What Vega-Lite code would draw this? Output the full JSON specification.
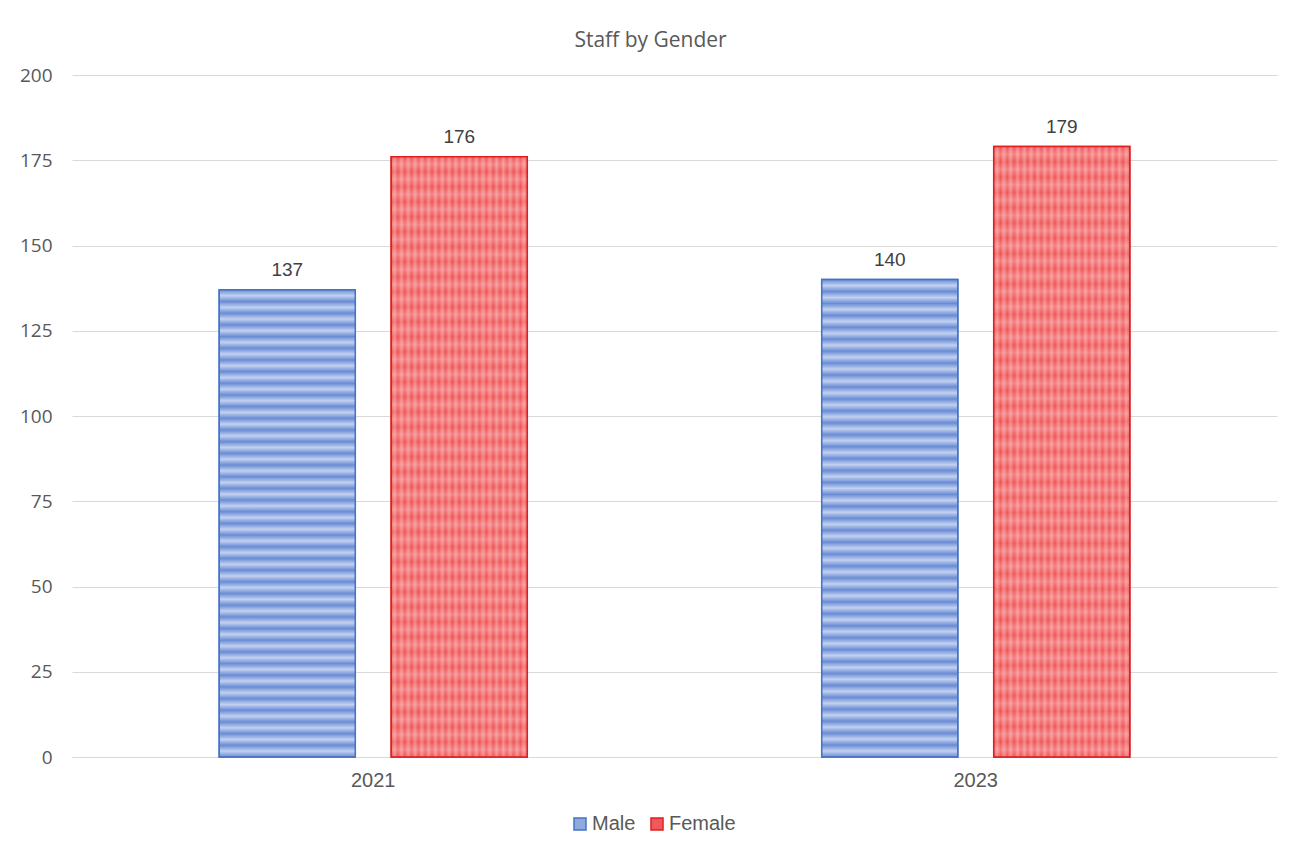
{
  "$schema": "https://vega.github.io/schema/vega-lite/v6.json",
  "autosize": {"type": "none"},
  "width": 1205,
  "height": 682,
  "padding": {"left": 72, "top": 75, "right": 19, "bottom": 90},
  "background": "white",
  "title": {"text": "Staff by Gender", "font": "Open Sans", "fontSize": 21, "fontWeight": "normal", "color": "#595959", "offset": 15, "anchor": "middle", "dx": -24},
  "data": {"values": [
    {"year": "2021", "gender": "Male", "value": 137},
    {"year": "2021", "gender": "Female", "value": 176},
    {"year": "2023", "gender": "Male", "value": 140},
    {"year": "2023", "gender": "Female", "value": 179}
  ]},
  "encoding": {
    "x": {"field": "year", "type": "nominal", "scale": {"paddingInner": 0, "paddingOuter": 0},
      "axis": {"title": null, "labelAngle": 0, "labelFont": "Liberation Sans", "labelFontSize": 20, "labelColor": "#595959", "labelPadding": 13, "ticks": false, "domainColor": "#D9D9D9", "domainWidth": 1, "grid": false}},
    "xOffset": {"field": "gender", "type": "nominal", "scale": {"domain": ["Male", "Female"], "paddingInner": 0.209, "paddingOuter": 0.856}},
    "y": {"field": "value", "type": "quantitative", "scale": {"domain": [0, 200], "nice": false},
      "axis": {"title": null, "values": [0, 25, 50, 75, 100, 125, 150, 175, 200], "labelFont": "Open Sans", "labelFontSize": 19, "labelColor": "#595959", "labelPadding": 20, "ticks": false, "domain": false, "gridColor": "#D9D9D9", "gridWidth": 1}}
  },
  "layer": [
    {
      "mark": {"type": "bar", "strokeWidth": 1.5},
      "encoding": {
        "fill": {"field": "gender", "type": "nominal", "scale": {"domain": ["Male", "Female"], "range": ["#8FAADC", "#F0595B"]},
          "legend": {"title": null, "orient": "none", "legendX": 498, "legendY": 739, "direction": "horizontal", "symbolType": "square", "symbolSize": 144, "symbolStrokeWidth": 1.5, "labelFont": "Liberation Sans", "labelFontSize": 20, "labelColor": "#595959", "labelOffset": 2, "columnPadding": 11}},
        "stroke": {"field": "gender", "type": "nominal", "scale": {"domain": ["Male", "Female"], "range": ["#4472C4", "#E01E1E"]}}
      }
    },
    {
      "mark": {"type": "bar", "strokeWidth": 0},
      "encoding": {
        "fill": {
          "condition": {"test": "datum.gender === 'Male'", "value": {"gradient": "linear", "x1": 0, "y1": 0, "x2": 0, "y2": 1, "stops": [
            {"offset": 0, "color": "#6A8CD5"}, {"offset": 0.0125, "color": "#C2D1F0"}, {"offset": 0.025, "color": "#6A8CD5"}, {"offset": 0.0375, "color": "#C2D1F0"},
            {"offset": 0.05, "color": "#6A8CD5"}, {"offset": 0.0625, "color": "#C2D1F0"}, {"offset": 0.075, "color": "#6A8CD5"}, {"offset": 0.0875, "color": "#C2D1F0"},
            {"offset": 0.1, "color": "#6A8CD5"}, {"offset": 0.1125, "color": "#C2D1F0"}, {"offset": 0.125, "color": "#6A8CD5"}, {"offset": 0.1375, "color": "#C2D1F0"},
            {"offset": 0.15, "color": "#6A8CD5"}, {"offset": 0.1625, "color": "#C2D1F0"}, {"offset": 0.175, "color": "#6A8CD5"}, {"offset": 0.1875, "color": "#C2D1F0"},
            {"offset": 0.2, "color": "#6A8CD5"}, {"offset": 0.2125, "color": "#C2D1F0"}, {"offset": 0.225, "color": "#6A8CD5"}, {"offset": 0.2375, "color": "#C2D1F0"},
            {"offset": 0.25, "color": "#6A8CD5"}, {"offset": 0.2625, "color": "#C2D1F0"}, {"offset": 0.275, "color": "#6A8CD5"}, {"offset": 0.2875, "color": "#C2D1F0"},
            {"offset": 0.3, "color": "#6A8CD5"}, {"offset": 0.3125, "color": "#C2D1F0"}, {"offset": 0.325, "color": "#6A8CD5"}, {"offset": 0.3375, "color": "#C2D1F0"},
            {"offset": 0.35, "color": "#6A8CD5"}, {"offset": 0.3625, "color": "#C2D1F0"}, {"offset": 0.375, "color": "#6A8CD5"}, {"offset": 0.3875, "color": "#C2D1F0"},
            {"offset": 0.4, "color": "#6A8CD5"}, {"offset": 0.4125, "color": "#C2D1F0"}, {"offset": 0.425, "color": "#6A8CD5"}, {"offset": 0.4375, "color": "#C2D1F0"},
            {"offset": 0.45, "color": "#6A8CD5"}, {"offset": 0.4625, "color": "#C2D1F0"}, {"offset": 0.475, "color": "#6A8CD5"}, {"offset": 0.4875, "color": "#C2D1F0"},
            {"offset": 0.5, "color": "#6A8CD5"}, {"offset": 0.5125, "color": "#C2D1F0"}, {"offset": 0.525, "color": "#6A8CD5"}, {"offset": 0.5375, "color": "#C2D1F0"},
            {"offset": 0.55, "color": "#6A8CD5"}, {"offset": 0.5625, "color": "#C2D1F0"}, {"offset": 0.575, "color": "#6A8CD5"}, {"offset": 0.5875, "color": "#C2D1F0"},
            {"offset": 0.6, "color": "#6A8CD5"}, {"offset": 0.6125, "color": "#C2D1F0"}, {"offset": 0.625, "color": "#6A8CD5"}, {"offset": 0.6375, "color": "#C2D1F0"},
            {"offset": 0.65, "color": "#6A8CD5"}, {"offset": 0.6625, "color": "#C2D1F0"}, {"offset": 0.675, "color": "#6A8CD5"}, {"offset": 0.6875, "color": "#C2D1F0"},
            {"offset": 0.7, "color": "#6A8CD5"}, {"offset": 0.7125, "color": "#C2D1F0"}, {"offset": 0.725, "color": "#6A8CD5"}, {"offset": 0.7375, "color": "#C2D1F0"},
            {"offset": 0.75, "color": "#6A8CD5"}, {"offset": 0.7625, "color": "#C2D1F0"}, {"offset": 0.775, "color": "#6A8CD5"}, {"offset": 0.7875, "color": "#C2D1F0"},
            {"offset": 0.8, "color": "#6A8CD5"}, {"offset": 0.8125, "color": "#C2D1F0"}, {"offset": 0.825, "color": "#6A8CD5"}, {"offset": 0.8375, "color": "#C2D1F0"},
            {"offset": 0.85, "color": "#6A8CD5"}, {"offset": 0.8625, "color": "#C2D1F0"}, {"offset": 0.875, "color": "#6A8CD5"}, {"offset": 0.8875, "color": "#C2D1F0"},
            {"offset": 0.9, "color": "#6A8CD5"}, {"offset": 0.9125, "color": "#C2D1F0"}, {"offset": 0.925, "color": "#6A8CD5"}, {"offset": 0.9375, "color": "#C2D1F0"},
            {"offset": 0.95, "color": "#6A8CD5"}, {"offset": 0.9625, "color": "#C2D1F0"}, {"offset": 0.975, "color": "#6A8CD5"}, {"offset": 0.9875, "color": "#C2D1F0"},
            {"offset": 1, "color": "#6A8CD5"}
          ]}},
          "value": {"gradient": "linear", "x1": 0, "y1": 0, "x2": 1, "y2": 0, "stops": [
            {"offset": 0, "color": "#EF5355"}, {"offset": 0.025, "color": "#F58888"}, {"offset": 0.05, "color": "#EF5355"}, {"offset": 0.075, "color": "#F58888"},
            {"offset": 0.1, "color": "#EF5355"}, {"offset": 0.125, "color": "#F58888"}, {"offset": 0.15, "color": "#EF5355"}, {"offset": 0.175, "color": "#F58888"},
            {"offset": 0.2, "color": "#EF5355"}, {"offset": 0.225, "color": "#F58888"}, {"offset": 0.25, "color": "#EF5355"}, {"offset": 0.275, "color": "#F58888"},
            {"offset": 0.3, "color": "#EF5355"}, {"offset": 0.325, "color": "#F58888"}, {"offset": 0.35, "color": "#EF5355"}, {"offset": 0.375, "color": "#F58888"},
            {"offset": 0.4, "color": "#EF5355"}, {"offset": 0.425, "color": "#F58888"}, {"offset": 0.45, "color": "#EF5355"}, {"offset": 0.475, "color": "#F58888"},
            {"offset": 0.5, "color": "#EF5355"}, {"offset": 0.525, "color": "#F58888"}, {"offset": 0.55, "color": "#EF5355"}, {"offset": 0.575, "color": "#F58888"},
            {"offset": 0.6, "color": "#EF5355"}, {"offset": 0.625, "color": "#F58888"}, {"offset": 0.65, "color": "#EF5355"}, {"offset": 0.675, "color": "#F58888"},
            {"offset": 0.7, "color": "#EF5355"}, {"offset": 0.725, "color": "#F58888"}, {"offset": 0.75, "color": "#EF5355"}, {"offset": 0.775, "color": "#F58888"},
            {"offset": 0.8, "color": "#EF5355"}, {"offset": 0.825, "color": "#F58888"}, {"offset": 0.85, "color": "#EF5355"}, {"offset": 0.875, "color": "#F58888"},
            {"offset": 0.9, "color": "#EF5355"}, {"offset": 0.925, "color": "#F58888"}, {"offset": 0.95, "color": "#EF5355"}, {"offset": 0.975, "color": "#F58888"},
            {"offset": 1, "color": "#EF5355"}
          ]}
        }
      }
    },
    {
      "transform": [{"filter": "datum.gender === 'Female'"}],
      "mark": {"type": "bar", "strokeWidth": 0, "fill": {"gradient": "linear", "x1": 0, "y1": 0, "x2": 0, "y2": 1, "stops": [
        {"offset": 0, "color": "rgba(255,255,255,0)"}, {"offset": 0.0125, "color": "rgba(255,255,255,0.25)"}, {"offset": 0.025, "color": "rgba(255,255,255,0)"}, {"offset": 0.0375, "color": "rgba(255,255,255,0.25)"},
        {"offset": 0.05, "color": "rgba(255,255,255,0)"}, {"offset": 0.0625, "color": "rgba(255,255,255,0.25)"}, {"offset": 0.075, "color": "rgba(255,255,255,0)"}, {"offset": 0.0875, "color": "rgba(255,255,255,0.25)"},
        {"offset": 0.1, "color": "rgba(255,255,255,0)"}, {"offset": 0.1125, "color": "rgba(255,255,255,0.25)"}, {"offset": 0.125, "color": "rgba(255,255,255,0)"}, {"offset": 0.1375, "color": "rgba(255,255,255,0.25)"},
        {"offset": 0.15, "color": "rgba(255,255,255,0)"}, {"offset": 0.1625, "color": "rgba(255,255,255,0.25)"}, {"offset": 0.175, "color": "rgba(255,255,255,0)"}, {"offset": 0.1875, "color": "rgba(255,255,255,0.25)"},
        {"offset": 0.2, "color": "rgba(255,255,255,0)"}, {"offset": 0.2125, "color": "rgba(255,255,255,0.25)"}, {"offset": 0.225, "color": "rgba(255,255,255,0)"}, {"offset": 0.2375, "color": "rgba(255,255,255,0.25)"},
        {"offset": 0.25, "color": "rgba(255,255,255,0)"}, {"offset": 0.2625, "color": "rgba(255,255,255,0.25)"}, {"offset": 0.275, "color": "rgba(255,255,255,0)"}, {"offset": 0.2875, "color": "rgba(255,255,255,0.25)"},
        {"offset": 0.3, "color": "rgba(255,255,255,0)"}, {"offset": 0.3125, "color": "rgba(255,255,255,0.25)"}, {"offset": 0.325, "color": "rgba(255,255,255,0)"}, {"offset": 0.3375, "color": "rgba(255,255,255,0.25)"},
        {"offset": 0.35, "color": "rgba(255,255,255,0)"}, {"offset": 0.3625, "color": "rgba(255,255,255,0.25)"}, {"offset": 0.375, "color": "rgba(255,255,255,0)"}, {"offset": 0.3875, "color": "rgba(255,255,255,0.25)"},
        {"offset": 0.4, "color": "rgba(255,255,255,0)"}, {"offset": 0.4125, "color": "rgba(255,255,255,0.25)"}, {"offset": 0.425, "color": "rgba(255,255,255,0)"}, {"offset": 0.4375, "color": "rgba(255,255,255,0.25)"},
        {"offset": 0.45, "color": "rgba(255,255,255,0)"}, {"offset": 0.4625, "color": "rgba(255,255,255,0.25)"}, {"offset": 0.475, "color": "rgba(255,255,255,0)"}, {"offset": 0.4875, "color": "rgba(255,255,255,0.25)"},
        {"offset": 0.5, "color": "rgba(255,255,255,0)"}, {"offset": 0.5125, "color": "rgba(255,255,255,0.25)"}, {"offset": 0.525, "color": "rgba(255,255,255,0)"}, {"offset": 0.5375, "color": "rgba(255,255,255,0.25)"},
        {"offset": 0.55, "color": "rgba(255,255,255,0)"}, {"offset": 0.5625, "color": "rgba(255,255,255,0.25)"}, {"offset": 0.575, "color": "rgba(255,255,255,0)"}, {"offset": 0.5875, "color": "rgba(255,255,255,0.25)"},
        {"offset": 0.6, "color": "rgba(255,255,255,0)"}, {"offset": 0.6125, "color": "rgba(255,255,255,0.25)"}, {"offset": 0.625, "color": "rgba(255,255,255,0)"}, {"offset": 0.6375, "color": "rgba(255,255,255,0.25)"},
        {"offset": 0.65, "color": "rgba(255,255,255,0)"}, {"offset": 0.6625, "color": "rgba(255,255,255,0.25)"}, {"offset": 0.675, "color": "rgba(255,255,255,0)"}, {"offset": 0.6875, "color": "rgba(255,255,255,0.25)"},
        {"offset": 0.7, "color": "rgba(255,255,255,0)"}, {"offset": 0.7125, "color": "rgba(255,255,255,0.25)"}, {"offset": 0.725, "color": "rgba(255,255,255,0)"}, {"offset": 0.7375, "color": "rgba(255,255,255,0.25)"},
        {"offset": 0.75, "color": "rgba(255,255,255,0)"}, {"offset": 0.7625, "color": "rgba(255,255,255,0.25)"}, {"offset": 0.775, "color": "rgba(255,255,255,0)"}, {"offset": 0.7875, "color": "rgba(255,255,255,0.25)"},
        {"offset": 0.8, "color": "rgba(255,255,255,0)"}, {"offset": 0.8125, "color": "rgba(255,255,255,0.25)"}, {"offset": 0.825, "color": "rgba(255,255,255,0)"}, {"offset": 0.8375, "color": "rgba(255,255,255,0.25)"},
        {"offset": 0.85, "color": "rgba(255,255,255,0)"}, {"offset": 0.8625, "color": "rgba(255,255,255,0.25)"}, {"offset": 0.875, "color": "rgba(255,255,255,0)"}, {"offset": 0.8875, "color": "rgba(255,255,255,0.25)"},
        {"offset": 0.9, "color": "rgba(255,255,255,0)"}, {"offset": 0.9125, "color": "rgba(255,255,255,0.25)"}, {"offset": 0.925, "color": "rgba(255,255,255,0)"}, {"offset": 0.9375, "color": "rgba(255,255,255,0.25)"},
        {"offset": 0.95, "color": "rgba(255,255,255,0)"}, {"offset": 0.9625, "color": "rgba(255,255,255,0.25)"}, {"offset": 0.975, "color": "rgba(255,255,255,0)"}, {"offset": 0.9875, "color": "rgba(255,255,255,0.25)"},
        {"offset": 1, "color": "rgba(255,255,255,0)"}
      ]}},
      "encoding": {}
    },
    {
      "mark": {"type": "bar", "fillOpacity": 0, "strokeWidth": 1.5},
      "encoding": {
        "stroke": {"field": "gender", "type": "nominal", "scale": {"domain": ["Male", "Female"], "range": ["#4472C4", "#E01E1E"]}}
      }
    },
    {
      "mark": {"type": "text", "baseline": "alphabetic", "dy": -14, "font": "Liberation Sans", "fontSize": 19, "color": "#404040"},
      "encoding": {"text": {"field": "value", "type": "quantitative"}}
    }
  ],
  "config": {"view": {"stroke": null}}
}
